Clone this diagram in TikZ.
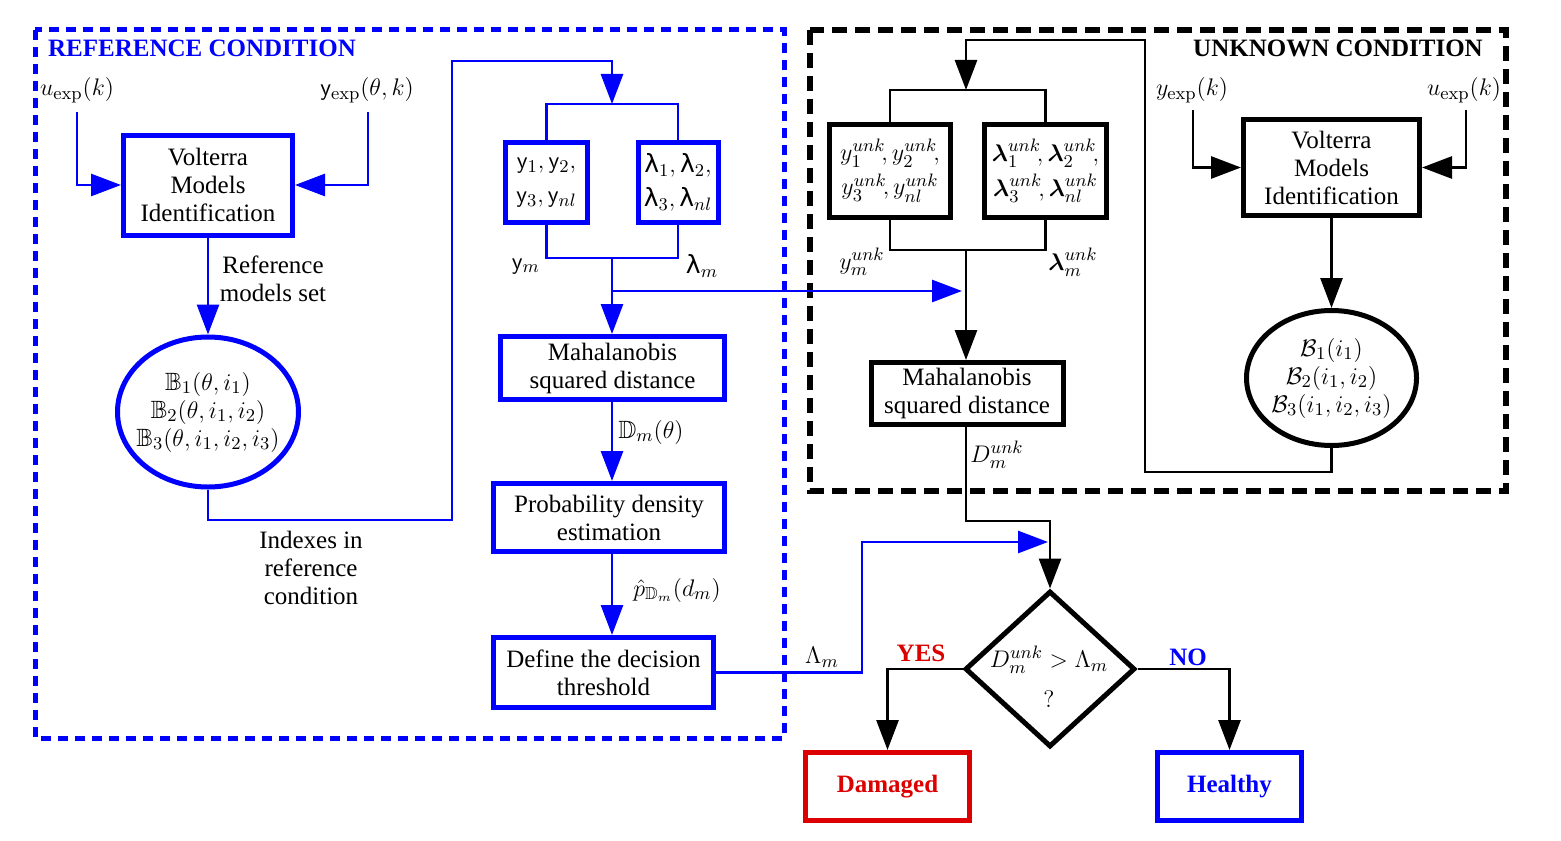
\documentclass[tikz,border=0pt]{standalone}
\usepackage{amsmath,amssymb}
\usepackage[no-math]{fontspec}
\setmainfont{Liberation Serif}
\newfontfamily\lamfont{DejaVu Sans}
\usetikzlibrary{arrows.meta,shapes.geometric}
\definecolor{refblue}{RGB}{0,0,255}
\definecolor{dmgred}{RGB}{220,0,0}
\newcommand{\syv}{\mathsf{y}}
\newcommand{\slam}{\mbox{\lamfont λ}}
\begin{document}
\begin{tikzpicture}[x=0.5pt,y=-0.5pt,
  font=\fontsize{12.5}{14}\selectfont,
  box/.style={draw, line width=2.5pt, fill=white, align=center, inner sep=2pt},
  bbox/.style={box, draw=refblue},
  kbox/.style={box, draw=black},
  bline/.style={draw=refblue, line width=1.4pt},
  kline/.style={draw=black, line width=1.4pt},
  arr/.style={-{Triangle[length=15pt,width=11pt]}},
  lbl/.style={inner sep=0pt, align=center},
  title/.style={inner sep=0pt, font=\fontsize{12.5}{14}\selectfont\bfseries}]
\useasboundingbox (0,0) rectangle (1561,840);

% frames of the two conditions
\draw[refblue, line width=2.5pt, dash pattern=on 5pt off 3.5pt] (35,30) rectangle (784,738);
\draw[black, line width=3pt, dash pattern=on 7.5pt off 4pt] (810,30) rectangle (1506,491);
\node[title, text=refblue] (tref) at (202,48) {REFERENCE CONDITION};
\node[title] (tunk) at (1338,48) {UNKNOWN CONDITION};

% ---------------- reference condition ----------------
\node[lbl] (uL) at (77,90) {$u_{\mathrm{exp}}(k)$};
\node[lbl] (yL) at (367,90) {$\syv_{\mathrm{exp}}(\theta,k)$};
\node[bbox, minimum width=84.5pt, minimum height=50pt] (vL) at (208,185)
  {Volterra\\Models\\Identification};
\node[ellipse, draw=refblue, line width=2.5pt, minimum width=90.5pt, minimum height=75pt,
  inner sep=0pt] (eL) at (208,412) {};
\node[lbl] (eLtxt) at (208,412)
  {$\mathbb{B}_1(\theta,i_1)$\\$\mathbb{B}_2(\theta,i_1,i_2)$\\$\mathbb{B}_3(\theta,i_1,i_2,i_3)$};
\node[lbl] (refset) at (273,279) {Reference\\models set};
\node[lbl] (idx) at (311,568) {Indexes in\\reference\\condition};

\coordinate (uLe) at (77,112);
\coordinate (yLe) at (368,112);
\draw[bline, arr] (uLe) |- (vL.west);
\draw[bline, arr] (yLe) |- (vL.east);
\draw[bline, arr] (vL.south) -- (eL.north);

\node[bbox, minimum width=41pt, minimum height=40pt] (yb) at (546.5,182.5)
  {$\syv_1,\syv_2,$\\[3pt]$\syv_3,\syv_{nl}$};
\node[bbox, minimum width=40pt, minimum height=40pt] (lb) at (678,182.5)
  {$\slam_1,\slam_2,$\\[3pt]$\slam_3,\slam_{nl}$};
\coordinate (brT) at (612,104);
\coordinate (brB) at (612,258);
\draw[bline, arr] (eL.south) |- (452,520) -- (452,61) -| (brT);
\draw[bline] (yb.north) -- (yb.north |- brT) -- (lb.north |- brT) -- (lb.north);
\draw[bline] (yb.south) -- (yb.south |- brB) -- (lb.south |- brB) -- (lb.south);
\node[lbl] (ym) at (526,266) {$\syv_m$};
\node[lbl] (lm) at (702,266) {$\slam_m$};

\node[bbox, minimum width=112pt, minimum height=31.5pt] (mL) at (612.5,368)
  {Mahalanobis\\squared distance};
\node[bbox, minimum width=115.5pt, minimum height=34pt] (pde) at (609,517.5)
  {Probability density\\estimation};
\node[bbox, minimum width=110pt, minimum height=35pt] (thr) at (603.5,672.5)
  {Define the decision\\threshold};
\draw[bline, arr] (brB) -- (brB |- mL.north);
\draw[bline, arr] (mL.south -| brB) -- (pde.north -| brB);
\draw[bline, arr] (pde.south -| brB) -- (thr.north -| brB);
\node[lbl] (dm) at (651,432) {$\mathbb{D}_m(\theta)$};
\node[lbl] (pm) at (677,590) {$\hat{p}_{\mathbb{D}_m}(d_m)$};

\coordinate (tap) at (612,291);
\coordinate (tapE) at (962,291);
\draw[bline, arr] (tap) -- (tapE);

% ---------------- unknown condition ----------------
\node[lbl] (yR) at (1192,90) {$y_{\mathrm{exp}}(k)$};
\node[lbl] (uR) at (1464,90) {$u_{\mathrm{exp}}(k)$};
\node[kbox, minimum width=88pt, minimum height=48pt] (vR) at (1331.5,167.5)
  {Volterra\\Models\\Identification};
\node[ellipse, draw, line width=2.5pt, minimum width=85pt, minimum height=67.5pt,
  inner sep=0pt, align=center] (eR) at (1331.5,378)
  {$\mathcal{B}_1(i_1)$\\$\mathcal{B}_2(i_1,i_2)$\\$\mathcal{B}_3(i_1,i_2,i_3)$};
\coordinate (yRe) at (1193,110);
\coordinate (uRe) at (1466,110);
\draw[kline, arr] (yRe) |- (vR.west);
\draw[kline, arr] (uRe) |- (vR.east);
\draw[kline, arr] (vR.south) -- (eR.north);

\node[kbox, minimum width=60.5pt, minimum height=46.5pt] (yu) at (890,171)
  {$y_1^{unk}\!,y_2^{unk}\!,$\\[2pt]$y_3^{unk}\!,y_{nl}^{unk}$};
\node[kbox, minimum width=61pt, minimum height=46.5pt] (lu) at (1045.5,171)
  {$\boldsymbol{\lambda}_1^{unk}\!,\boldsymbol{\lambda}_2^{unk}\!,$\\[2pt]$\boldsymbol{\lambda}_3^{unk}\!,\boldsymbol{\lambda}_{nl}^{unk}$};
\coordinate (brT2) at (966,90);
\coordinate (brB2) at (966,250);
\draw[kline, arr] (eR.south) |- (1145,472) -- (1145,40) -| (brT2);
\draw[kline] (yu.north) -- (yu.north |- brT2) -- (lu.north |- brT2) -- (lu.north);
\draw[kline] (yu.south) -- (yu.south |- brB2) -- (lu.south |- brB2) -- (lu.south);
\node[lbl] (ymu) at (862,262) {$y_m^{unk}$};
\node[lbl] (lmu) at (1073,262) {$\boldsymbol{\lambda}_m^{unk}$};

\node[kbox, minimum width=96pt, minimum height=31pt] (mR) at (967,393.5)
  {Mahalanobis\\squared distance};
\draw[kline, arr] (brB2) -- (brB2 |- mR.north);
\node[lbl] (dmu) at (997,455) {$D_m^{unk}$};

% ---------------- decision ----------------
\node[diamond, draw, line width=2.5pt, minimum width=85pt, minimum height=78pt,
  inner sep=0pt] (dia) at (1050,669) {};
\node[lbl] (diaTxt) at (1049,677) {$D_m^{unk}>\Lambda_m$\\[6pt]$?$};
\draw[kline, arr] (mR.south -| brB2) |- (1050,521) -- (dia.north);
\draw[bline, arr] (thr.east) -| (862,542) -- (1048,542);
\node[lbl] (Lm) at (822,657) {$\Lambda_m$};

\node[box, draw=dmgred, minimum width=82pt, minimum height=34pt,
  font=\fontsize{12.5}{14}\selectfont\bfseries, text=dmgred] (dam) at (887.5,786.5) {Damaged};
\node[box, draw=refblue, minimum width=72pt, minimum height=34pt,
  font=\fontsize{12.5}{14}\selectfont\bfseries, text=refblue] (hea) at (1229.5,786.5) {Healthy};
\draw[kline, arr] (dia.west) -| (dam.north);
\draw[kline, arr] (dia.east) -| (hea.north);
\node[title, text=dmgred] (yes) at (921,653) {YES};
\node[title, text=refblue] (no) at (1188,657) {NO};
\end{tikzpicture}
\end{document}
